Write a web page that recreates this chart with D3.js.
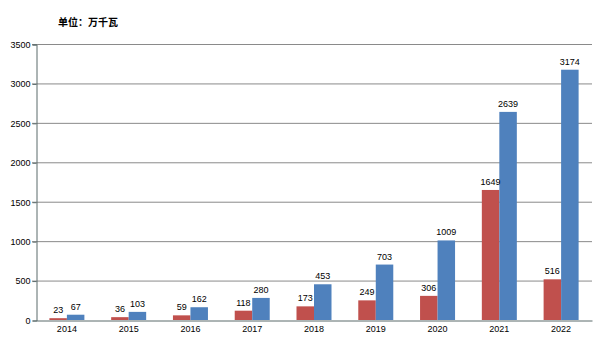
<!DOCTYPE html>
<html><head><meta charset="utf-8">
<script src="https://cdn.jsdelivr.net/npm/d3@7"></script>
<style>body{margin:0;background:#fff}svg{display:block}</style>
</head><body><svg id="c" width="605" height="340"></svg>
<script>
const years = ["2014","2015","2016","2017","2018","2019","2020","2021","2022"];
const seriesRed = [23,36,59,118,173,249,306,1649,516];
const seriesBlue = [67,103,162,280,453,703,1009,2639,3174];
const yTicks = [0,500,1000,1500,2000,2500,3000,3500];
const title = "单位：万千瓦";

const svg = d3.select("#c");
const m = {l:36, r:592, t:44, b:320};
const font = "'Liberation Sans', Arial, sans-serif";
const x = d3.scaleBand().domain(years).range([m.l, m.r]).paddingInner(0).paddingOuter(0);
const y = d3.scaleLinear().domain([0,3500]).range([m.b, m.t]);
const bw = 17.5;

// gridlines
svg.append("g").selectAll("line").data(yTicks.filter(d=>d>0)).join("line")
  .attr("x1", m.l-4).attr("x2", m.r).attr("y1", d=>y(d)+0.5).attr("y2", d=>y(d)+0.5)
  .attr("stroke", "#8a8a8a").attr("stroke-width", 1);

// y axis
const ya = d3.axisLeft(y).tickValues(yTicks).tickFormat(d3.format("d")).tickSize(4).tickPadding(2);
const gy = svg.append("g").attr("transform", `translate(${m.l+0.5},0.5)`).call(ya);
gy.select(".domain").attr("stroke","#5b6b6b");
gy.selectAll(".tick line").attr("stroke","#5b6b6b");
gy.selectAll("text").attr("font-family", font).attr("font-size", 9).attr("fill","#000");

// bars
const g = svg.append("g");
g.selectAll(".r").data(years).join("rect")
  .attr("x", (d)=>x(d)+x.bandwidth()/2-bw).attr("width", bw)
  .attr("y", (d,i)=>y(seriesRed[i])).attr("height", (d,i)=>y(0)-y(seriesRed[i]))
  .attr("fill", "#C0504D");
g.selectAll(".b").data(years).join("rect")
  .attr("x", (d)=>x(d)+x.bandwidth()/2).attr("width", bw)
  .attr("y", (d,i)=>y(seriesBlue[i])).attr("height", (d,i)=>y(0)-y(seriesBlue[i]))
  .attr("fill", "#4F81BD");

// labels
g.selectAll(".rl").data(years).join("text")
  .attr("x", d=>x(d)+x.bandwidth()/2-bw/2).attr("y", (d,i)=>y(seriesRed[i])-5)
  .attr("text-anchor","middle").attr("font-family", font).attr("font-size", 9)
  .text((d,i)=>seriesRed[i]);
g.selectAll(".bl").data(years).join("text")
  .attr("x", d=>x(d)+x.bandwidth()/2+bw/2).attr("y", (d,i)=>y(seriesBlue[i])-5)
  .attr("text-anchor","middle").attr("font-family", font).attr("font-size", 9)
  .text((d,i)=>seriesBlue[i]);

// x axis
const xa = d3.axisBottom(x).tickSize(0).tickPadding(5);
const gx = svg.append("g").attr("transform", `translate(0,${m.b+0.5})`).call(xa);
gx.select(".domain").attr("stroke","#5b6b6b");
gx.selectAll("text").attr("font-family", font).attr("font-size", 9).attr("fill","#000");

svg.append("text").attr("x", 58).attr("y", 26).attr("font-family", "'Noto Sans CJK SC', sans-serif")
  .attr("font-size", 10).attr("font-weight","bold").text(title);
</script></body></html>
